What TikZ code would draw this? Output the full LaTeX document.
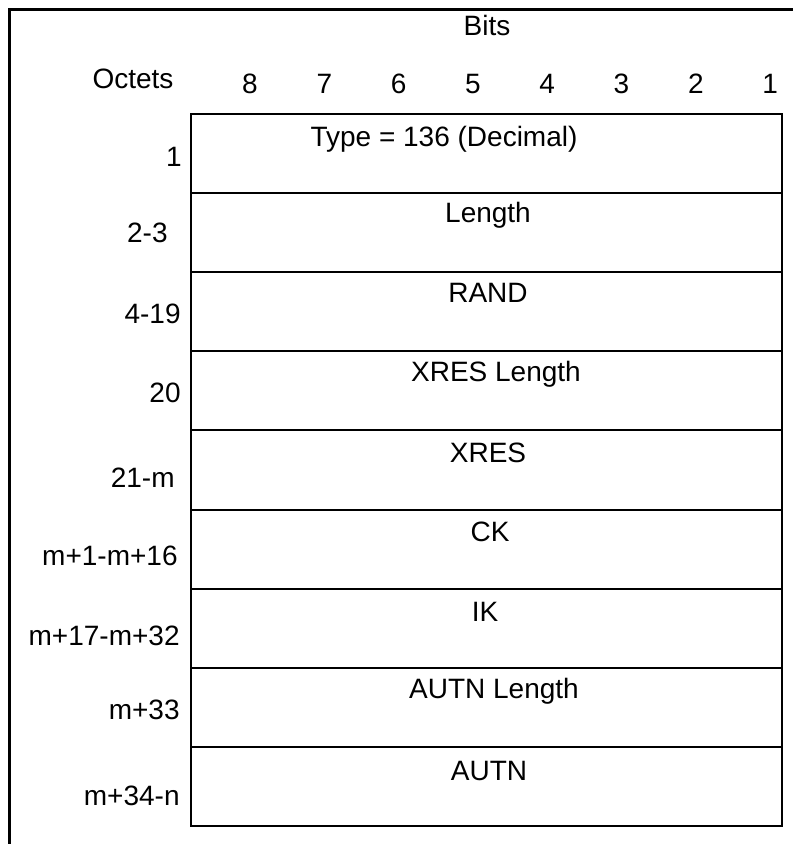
\documentclass[tikz,border=0pt]{standalone}
\usepackage{fontspec}
\setmainfont{Liberation Sans}
\begin{document}
\begin{tikzpicture}[x=0.5pt,y=-0.5pt,
  txt/.style={font=\fontsize{14}{16}\selectfont,inner sep=0pt,anchor=base},
  octlabel/.style={txt,anchor=base east},
  fieldbox/.style={draw,line width=1pt,inner sep=0pt,minimum width=295.5pt,minimum height=39.55pt}]
\useasboundingbox (0,0) rectangle (793,844);
\draw[line width=1.5pt] (9,844) -- (9,10) -- (793,10);
\node[txt] (bits) at (487,36) {Bits};
\node[txt] (octets) at (133,89) {Octets};
\foreach \b [count=\i from 0] in {8,7,6,5,4,3,2,1}
  \node[txt] (bit\b) at (250+74.3*\i,94) {\b};
% one box per field, octet numbers on the left
\foreach \name/\oct/\ox/\oy/\fx/\fy [count=\r from 0] in {
  {Type = 136 (Decimal)}/1/182/167/444/147,
  Length/2-3/168/243/488/223,
  RAND/4-19/181/323/488/302,
  XRES Length/20/181/402/496/381,
  XRES/21-m/175/487/488/462,
  CK/m+1-m+16/178/565/490/541,
  IK/m+17-m+32/180/645/485/621,
  AUTN Length/m+33/180/719/494/698,
  AUTN/m+34-n/180/805/489/780}
{
  \node[fieldbox] (field\r) at (486.5,153.55+79.1*\r) {};
  \node[txt] (name\r) at (\fx,\fy) {\name};
  \node[octlabel] (oct\r) at (\ox,\oy) {\oct};
}
\end{tikzpicture}
\end{document}
